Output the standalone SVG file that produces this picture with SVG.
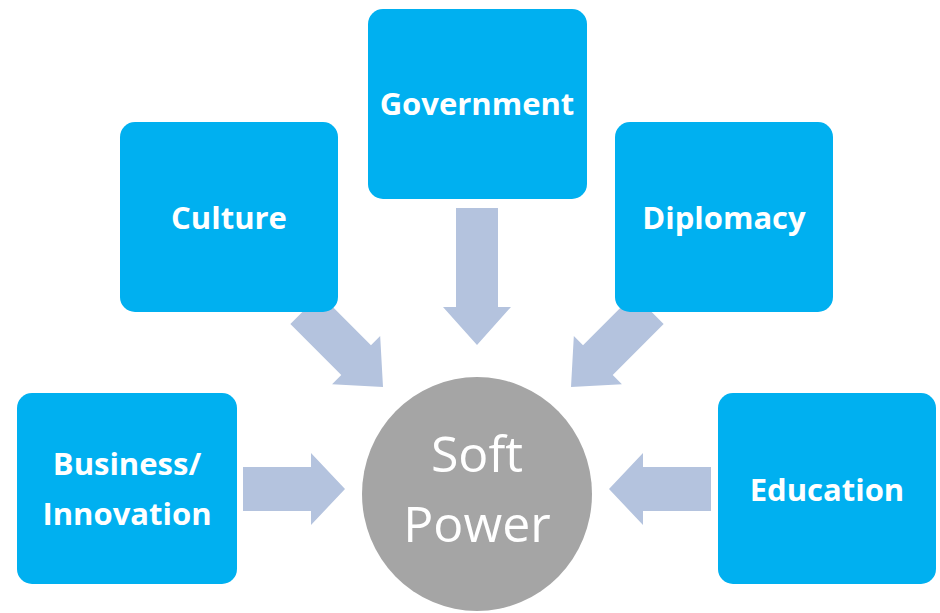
<svg xmlns="http://www.w3.org/2000/svg" width="940" height="613" viewBox="0 0 940 613">
<defs>
<style>
.box{fill:#00B0F0;}
.lbl{font-family:"Open Sans","Liberation Sans",sans-serif;font-weight:700;font-size:31px;fill:#FFFFFF;text-anchor:middle;}
.arr{fill:#B4C3DE;}
.hub{fill:#A5A5A5;}
.hubt{font-family:"Open Sans","Liberation Sans",sans-serif;font-size:50px;fill:#FFFFFF;text-anchor:middle;}
</style>
</defs>
<rect width="940" height="613" fill="#FFFFFF"/>
<g id="connectors">
<polygon class="arr" transform="translate(477,345) rotate(90)" points="-137,-21 -38,-21 -38,-34 0,0 -38,34 -38,21 -137,21"/>
<polygon class="arr" transform="translate(383,387) rotate(45)" points="-110,-21 -38,-21 -38,-34 0,0 -38,34 -38,21 -110,21"/>
<polygon class="arr" transform="translate(571,387) rotate(135)" points="-110,-21 -38,-21 -38,-34 0,0 -38,34 -38,21 -110,21"/>
<polygon class="arr" transform="translate(345,489)" points="-102,-22 -34,-22 -34,-36 0,0 -34,36 -34,22 -102,22"/>
<polygon class="arr" transform="translate(609,489) rotate(180)" points="-102,-22 -34,-22 -34,-36 0,0 -34,36 -34,22 -102,22"/>
</g>
<g id="government">
<rect class="box" x="368" y="9" width="219" height="190" rx="15"/>
<text class="lbl" x="477" y="115">Government</text>
</g>
<g id="culture">
<rect class="box" x="120" y="122" width="218" height="190" rx="15"/>
<text class="lbl" x="229" y="229">Culture</text>
</g>
<g id="diplomacy">
<rect class="box" x="615" y="122" width="218" height="190" rx="15"/>
<text class="lbl" x="724" y="229">Diplomacy</text>
</g>
<g id="business">
<rect class="box" x="17" y="393" width="220" height="191" rx="15"/>
<text class="lbl" x="127" y="475">Business/</text>
<text class="lbl" x="127" y="525">Innovation</text>
</g>
<g id="education">
<rect class="box" x="718" y="393" width="218" height="191" rx="15"/>
<text class="lbl" x="827" y="501">Education</text>
</g>
<g id="softpower">
<ellipse class="hub" cx="477" cy="494" rx="115" ry="117"/>
<text class="hubt" x="477" y="472">Soft</text>
<text class="hubt" x="477" y="542">Power</text>
</g>
</svg>
